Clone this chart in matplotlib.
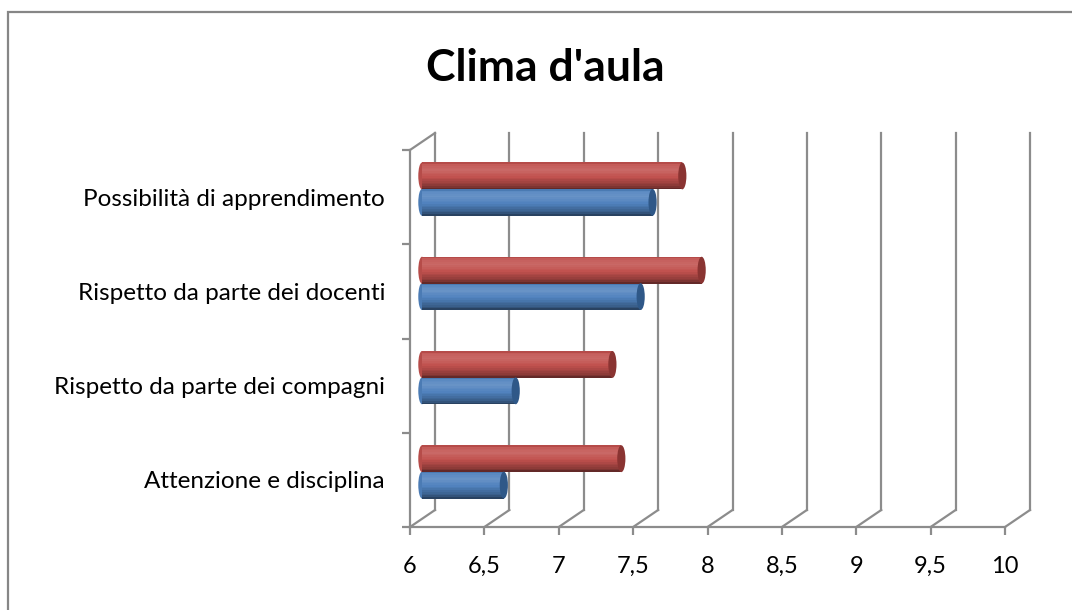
import matplotlib.pyplot as plt
import numpy as np
from matplotlib.patches import Ellipse, Rectangle
from matplotlib.colors import to_rgb

plt.rcParams['font.family'] = ['Lato', 'DejaVu Sans']

# dati del grafico
categorie = ['Attenzione e disciplina', 'Rispetto da parte dei compagni',
             'Rispetto da parte dei docenti', 'Possibilità di apprendimento']
serie_rossa = [7.34, 7.28, 7.88, 7.75]
serie_blu = [6.55, 6.63, 7.47, 7.55]
x_ticks = [6, 6.5, 7, 7.5, 8, 8.5, 9, 9.5, 10]
x_labels = ['6', '6,5', '7', '7,5', '8', '8,5', '9', '9,5', '10']

grigio = '#8c8c8c'

fig = plt.figure(figsize=(10.72, 6.10), dpi=100)
ax = fig.add_axes([410 / 1072, 83 / 610, 595 / 1072, 377 / 610])
ax.set_xlim(6, 10)
ax.set_ylim(0, 4)

# spostamento della parete di fondo e delle barre (in unita' dei dati)
px_x = 4 / 595
px_y = 4 / 377
DX, DY = 25 * px_x, 17 * px_y
BX, BY = 12 * px_x, 8 * px_y

# parete di fondo e pavimento
for x in x_ticks:
    ax.plot([x + DX, x + DX], [DY, 4 + DY], color=grigio, lw=1.6, clip_on=False, zorder=1)
    ax.plot([x, x + DX], [0, DY], color=grigio, lw=1.6, clip_on=False, zorder=1)
ax.plot([6, 6 + DX], [4, 4 + DY], color=grigio, lw=1.6, clip_on=False, zorder=1)


def cilindro(y, valore, base, scuro):
    h = 0.285
    n = 16
    base = np.array(to_rgb(base))
    t = (np.arange(n) + 0.5) / n
    f = np.interp(t, [0, 0.12, 0.45, 0.72, 0.9, 1.0], [-0.55, -0.3, 0.0, 0.14, 0.08, -0.12])
    ax.add_patch(Ellipse((6 + BX, y + BY), 0.05, h, facecolor=base * 0.95,
                         edgecolor='none', zorder=3, clip_on=False))
    for i in range(n):
        if f[i] >= 0:
            c = base + (1 - base) * f[i]
        else:
            c = base * (1 + f[i])
        ax.barh(y + BY - h / 2 + (i + 0.5) * h / n, valore - 6, height=h / n * 1.05,
                left=6 + BX, color=c, edgecolor='none', zorder=4, clip_on=False)
    ax.add_patch(Ellipse((valore + BX, y + BY), 0.055, h, facecolor=scuro,
                         edgecolor='none', zorder=5, clip_on=False))


ypos = np.arange(len(categorie)) + 0.5
for y, r, b in zip(ypos, serie_rossa, serie_blu):
    cilindro(y - 0.14, b, '#4f81bd', '#2f5888')
    cilindro(y + 0.14, r, '#c0504d', '#8a3432')

# assi frontali
for s in ['top', 'right']:
    ax.spines[s].set_visible(False)
for s in ['left', 'bottom']:
    ax.spines[s].set_color(grigio)
    ax.spines[s].set_linewidth(1.6)
ax.set_xticks(x_ticks)
ax.set_xticklabels(x_labels, fontsize=17)
ax.tick_params(axis='x', length=6, width=1.6, color=grigio, pad=15)
ax.set_yticks([0, 1, 2, 3, 4])
ax.set_yticklabels([])
ax.tick_params(axis='y', which='major', length=6, width=1.6, color=grigio)
ax.set_yticks(ypos, minor=True)
ax.set_yticklabels(categorie, minor=True, fontsize=17.5)
ax.tick_params(axis='y', which='minor', length=0, pad=18)
ax.patch.set_visible(False)

fig.text(545 / 1072, 1 - 68 / 610, "Clima d'aula", ha='center', va='center',
         fontsize=32, fontweight='bold')

fig.patches.append(Rectangle((8 / 1072, -0.1), 1.2, 1.1 - 12 / 610, transform=fig.transFigure,
                             fill=False, edgecolor='#868686', lw=1.6))

fig.savefig('out.png', dpi=100)
